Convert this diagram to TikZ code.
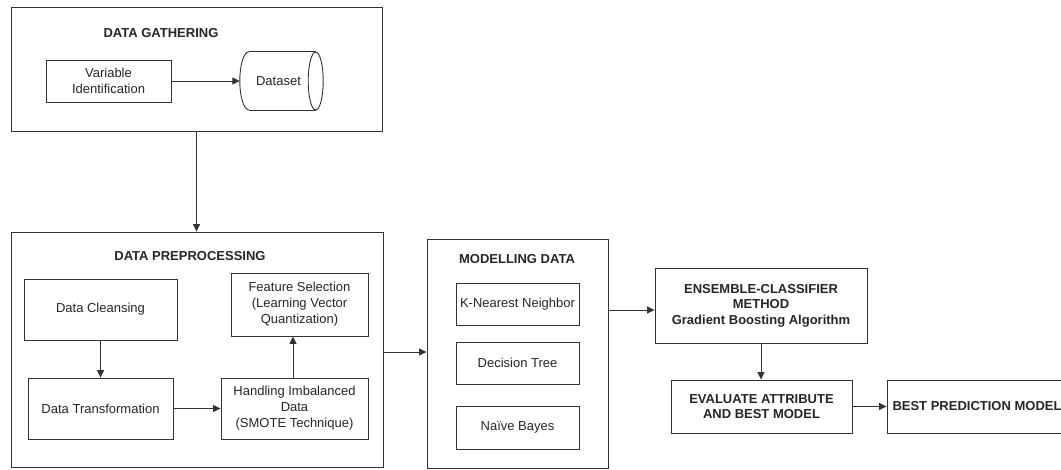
\documentclass[tikz,border=0pt]{standalone}
\usepackage{fontspec}
\setmainfont{Liberation Sans}
\usetikzlibrary{arrows.meta,calc}
\tikzset{
  box/.style={draw=black!80, line width=0.9pt, inner sep=0pt, align=center,
    font=\fontsize{13}{16}\selectfont, text=black!85},
  grp/.style={draw=black!80, line width=0.9pt, inner sep=0pt},
  outline/.style={draw=black!80, line width=0.9pt},
  ttl/.style={font=\fontsize{13}{16}\selectfont\bfseries, text=black!85, inner sep=0pt, align=center},
  arr/.style={draw=black!80, line width=0.9pt, -{Triangle[length=7.5pt,width=7pt]}}
}
\begin{document}
\begin{tikzpicture}[x=1pt,y=-1pt]
\useasboundingbox (0,0) rectangle (1061,469);
\fill[white] (0,0) rectangle (1061,469);
% Data gathering
\node[grp, minimum width=371pt, minimum height=124pt] (gather) at (196.5,69) {};
\node[ttl] (tgather) at (161,33) {DATA GATHERING};
\node[box, minimum width=125pt, minimum height=42pt] (varid) at (108.5,81) {Variable\\Identification};
\node[inner sep=0pt, minimum width=83pt, minimum height=58pt, font=\fontsize{13}{16}\selectfont, text=black!85] (dataset) at (281.5,81) {\hspace*{-6pt}Dataset};
\draw[outline] ($(dataset.north west)+(9,0)$) -- ($(dataset.north east)+(-7.5,0)$);
\draw[outline] ($(dataset.south west)+(9,0)$) -- ($(dataset.south east)+(-7.5,0)$);
\draw[outline] ($(dataset.north west)+(9,0)$) arc[start angle=90, end angle=270, x radius=9pt, y radius=29pt];
\draw[outline] ($(dataset.east)+(-7.5,0)$) ellipse[x radius=7.5pt, y radius=29pt];
% Data preprocessing
\node[grp, minimum width=372pt, minimum height=235pt] (prep) at (197,349.5) {};
\node[ttl] (tprep) at (190,256) {DATA PREPROCESSING};
\node[box, minimum width=153pt, minimum height=61pt] (clean) at (100.5,309.5) {Data Cleansing};
\node[box, minimum width=145pt, minimum height=61pt] (transf) at (100.5,408.5) {Data Transformation};
\node[box, minimum width=137pt, minimum height=63pt] (feat) at (299.5,304.5) {Feature Selection\\(Learning Vector\\Quantization)};
\node[box, minimum width=147pt, minimum height=61pt] (handl) at (294.5,408.5) {Handling Imbalanced\\Data\\(SMOTE Technique)};
% Modelling
\node[grp, minimum width=181pt, minimum height=229pt] (model) at (517.5,353.5) {};
\node[ttl] (tmodel) at (517,259) {MODELLING DATA};
\node[box, minimum width=123pt, minimum height=42pt] (knn) at (517.5,304) {K-Nearest Neighbor};
\node[box, minimum width=123pt, minimum height=42pt] (dtree) at (517.5,363) {Decision Tree};
\node[box, minimum width=123pt, minimum height=43pt] (nb) at (517.5,427.5) {Naïve Bayes};
% Ensemble etc.
\node[box, font=\fontsize{13}{15.5}\selectfont\bfseries, minimum width=212pt, minimum height=75pt] (ens) at (761,305.5) {ENSEMBLE-CLASSIFIER\\METHOD\\Gradient Boosting Algorithm};
\node[box, font=\fontsize{13}{15}\selectfont\bfseries, minimum width=181pt, minimum height=53pt] (eval) at (761.5,406.5) {EVALUATE ATTRIBUTE\\AND BEST MODEL};
\node[box, font=\fontsize{13}{15}\selectfont\bfseries, minimum width=180pt, minimum height=53pt] (best) at (977,406.5) {BEST PREDICTION MODEL};
% connectors
\draw[arr] (varid.east) -- (dataset.west);
\draw[arr] (gather.south) -- (gather.south |- prep.north);
\draw[arr] (clean.south) -- (clean.south |- transf.north);
\draw[arr] (transf.east) -- (transf.east -| handl.west);
\draw[arr] ([xshift=-1.5pt]handl.north) -- ([xshift=-1.5pt]handl.north |- feat.south);
\draw[arr] ([yshift=-2.5pt]prep.east) -- ([yshift=-2.5pt]prep.east -| model.west);
\draw[arr] ([yshift=-4.5pt]ens.west -| model.east) -- ([yshift=-4.5pt]ens.west);
\draw[arr] (ens.south) -- (ens.south |- eval.north);
\draw[arr] (eval.east) -- (eval.east -| best.west);
\end{tikzpicture}
\end{document}
